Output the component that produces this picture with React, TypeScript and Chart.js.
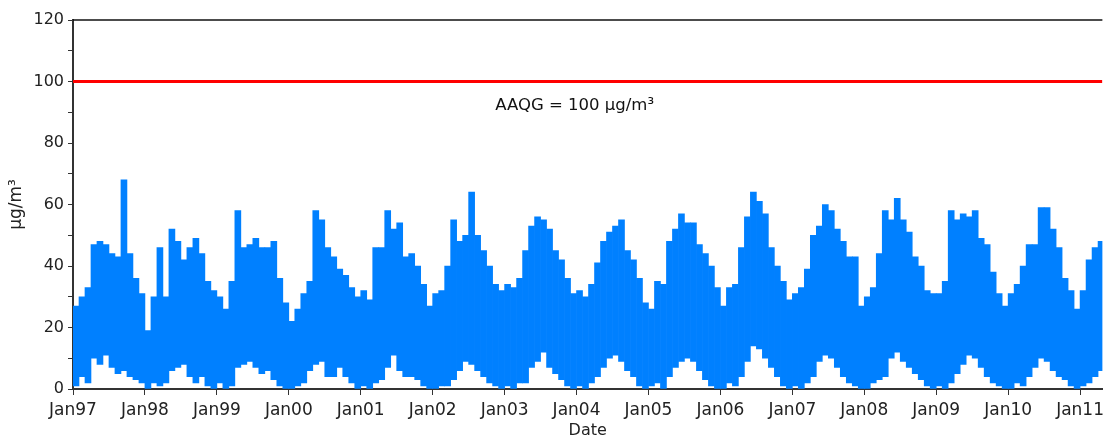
import React, { useEffect, useRef } from 'react';
import { Chart, registerables } from 'chart.js';

Chart.register(...registerables);

// ---- data (monthly envelope of the concentration record, µg/m³) ----
const startYear = 1997;
const xMax = 2011.31;

const high1997 = [27, 30, 33, 47, 48, 47, 44, 43, 68, 44, 36, 31];
const high1998 = [19, 30, 46, 30, 52, 48, 42, 46, 49, 44, 35, 32];
const high1999 = [30, 26, 35, 58, 46, 47, 49, 46, 46, 48, 36, 28];
const high2000 = [22, 26, 31, 35, 58, 55, 46, 43, 39, 37, 33, 30];
const high2001 = [32, 29, 46, 46, 58, 52, 54, 43, 44, 40, 34, 27];
const high2002 = [31, 32, 40, 55, 48, 50, 64, 50, 45, 40, 34, 32];
const high2003 = [34, 33, 36, 45, 53, 56, 55, 52, 45, 42, 36, 31];
const high2004 = [32, 30, 34, 41, 48, 51, 53, 55, 45, 42, 36, 28];
const high2005 = [26, 35, 34, 48, 52, 57, 54, 54, 47, 44, 40, 33];
const high2006 = [27, 33, 34, 46, 56, 64, 61, 57, 46, 40, 35, 29];
const high2007 = [31, 33, 39, 50, 53, 60, 58, 52, 48, 43, 43, 27];
const high2008 = [30, 33, 44, 58, 55, 62, 55, 51, 43, 40, 32, 31];
const high2009 = [31, 35, 58, 55, 57, 56, 58, 49, 47, 38, 31, 27];
const high2010 = [31, 34, 40, 47, 47, 59, 59, 52, 46, 36, 32, 26];
const high2011 = [32, 42, 46, 48];

const low1997 = [1, 4, 2, 10, 8, 11, 7, 5, 6, 4, 3, 2];
const low1998 = [0, 2, 1, 2, 6, 7, 8, 4, 2, 4, 1, 0];
const low1999 = [2, 0, 1, 7, 8, 9, 7, 5, 6, 3, 1, 0];
const low2000 = [0, 1, 2, 6, 8, 9, 4, 4, 7, 4, 2, 0];
const low2001 = [1, 0, 2, 3, 7, 11, 6, 4, 4, 3, 1, 0];
const low2002 = [0, 1, 1, 3, 6, 9, 8, 6, 4, 2, 1, 0];
const low2003 = [1, 0, 2, 2, 7, 9, 12, 7, 5, 3, 1, 0];
const low2004 = [1, 0, 2, 4, 7, 10, 11, 9, 6, 4, 1, 0];
const low2005 = [1, 2, 0, 4, 7, 9, 10, 9, 6, 3, 1, 0];
const low2006 = [0, 2, 1, 4, 9, 14, 13, 10, 7, 4, 1, 0];
const low2007 = [1, 0, 2, 4, 9, 11, 10, 7, 4, 2, 1, 0];
const low2008 = [0, 2, 3, 4, 10, 12, 9, 7, 5, 3, 1, 0];
const low2009 = [1, 0, 2, 5, 8, 11, 10, 7, 4, 2, 1, 0];
const low2010 = [0, 2, 1, 4, 7, 10, 9, 6, 4, 3, 1, 0];
const low2011 = [1, 2, 4, 6];

const monthlyHigh = [
  high1997, high1998, high1999, high2000, high2001, high2002, high2003, high2004,
  high2005, high2006, high2007, high2008, high2009, high2010, high2011,
].flat();
const monthlyLow = [
  low1997, low1998, low1999, low2000, low2001, low2002, low2003, low2004,
  low2005, low2006, low2007, low2008, low2009, low2010, low2011,
].flat();

const xTickYears = [1997, 1998, 1999, 2000, 2001, 2002, 2003, 2004, 2005, 2006, 2007, 2008, 2009, 2010, 2011];
const xTickLabels = ['Jan97', 'Jan98', 'Jan99', 'Jan00', 'Jan01', 'Jan02', 'Jan03', 'Jan04', 'Jan05', 'Jan06', 'Jan07', 'Jan08', 'Jan09', 'Jan10', 'Jan11'];

const guidelineValue = 100;
const guidelineLabel = 'AAQG = 100 µg/m³';
const guidelineLabelAt = { x: 2002.87, y: 92 };

const FONT = 'DejaVu Sans, Verdana, sans-serif';

export default function App() {
  const ref = useRef<HTMLCanvasElement | null>(null);

  useEffect(() => {
    if (!ref.current) return;

    const barData = monthlyHigh.map((h, i) => ({
      x: startYear + (i + 0.5) / 12,
      y: [monthlyLow[i], h],
    }));

    const frameAndLabel = {
      id: 'frameAndLabel',
      afterDatasetsDraw(chart: any) {
        const { ctx, chartArea, scales } = chart;
        ctx.save();
        ctx.strokeStyle = '#111';
        ctx.lineWidth = 1.5;
        ctx.beginPath();
        ctx.moveTo(chartArea.left, chartArea.top);
        ctx.lineTo(chartArea.right, chartArea.top);
        ctx.stroke();
        ctx.fillStyle = '#111';
        ctx.font = `16.5px ${FONT}`;
        ctx.textAlign = 'left';
        ctx.textBaseline = 'middle';
        ctx.fillText(
          guidelineLabel,
          scales.x.getPixelForValue(guidelineLabelAt.x),
          scales.y.getPixelForValue(guidelineLabelAt.y)
        );
        ctx.restore();
      },
    };

    const chart = new Chart(ref.current, {
      type: 'bar',
      data: {
        datasets: [
          {
            type: 'bar',
            data: barData as any,
            backgroundColor: '#0080ff',
            borderWidth: 0,
            barPercentage: 1,
            categoryPercentage: 1,
            order: 2,
          },
          {
            type: 'line',
            data: [
              { x: startYear, y: guidelineValue },
              { x: xMax, y: guidelineValue },
            ] as any,
            borderColor: '#ff0000',
            borderWidth: 3,
            pointRadius: 0,
            order: 1,
          },
        ],
      },
      options: {
        responsive: false,
        animation: false,
        devicePixelRatio: 1,
        layout: { padding: { top: 20, left: 0, right: 0, bottom: 0 } },
        plugins: { legend: { display: false }, tooltip: { enabled: false } },
        scales: {
          x: {
            type: 'linear',
            min: startYear,
            max: xMax,
            offset: false,
            afterBuildTicks: (axis: any) => {
              axis.ticks = xTickYears.map((v) => ({ value: v }));
            },
            afterFit: (axis: any) => {
              axis.height = 47;
            },
            ticks: {
              autoSkip: false,
              maxRotation: 0,
              padding: 5,
              color: '#222',
              font: { family: FONT, size: 17 },
              callback: (_v: any, i: number) => xTickLabels[i],
            },
            grid: { offset: false, drawOnChartArea: false, drawTicks: true, tickLength: 6, color: '#333' },
            border: { color: '#333', width: 2 },
            title: {
              display: true,
              text: 'Date',
              color: '#222',
              font: { family: FONT, size: 16 },
              padding: { top: 0, bottom: -4 },
            },
          },
          y: {
            min: 0,
            max: 120,
            afterBuildTicks: (axis: any) => {
              const t = [];
              for (let v = 0; v <= 120; v += 10) t.push({ value: v });
              axis.ticks = t;
            },
            afterFit: (axis: any) => {
              axis.width = 73;
            },
            ticks: {
              autoSkip: false,
              padding: 4,
              color: '#222',
              font: { family: FONT, size: 16 },
              callback: (v: any) => (v % 20 === 0 ? String(v) : ''),
            },
            grid: { drawOnChartArea: false, drawTicks: true, tickLength: 5, color: '#333' },
            border: { color: '#333', width: 2 },
            title: {
              display: true,
              text: 'µg/m³',
              color: '#222',
              font: { family: FONT, size: 17 },
              padding: { top: 6, bottom: 0 },
            },
          },
        },
      } as any,
      plugins: [frameAndLabel],
    });

    return () => chart.destroy();
  }, []);

  return (
    <div style={{ position: 'absolute', left: 0, top: 0, width: 1109, height: 436, background: '#fff' }}>
      <canvas ref={ref} width={1109} height={436} />
    </div>
  );
}
